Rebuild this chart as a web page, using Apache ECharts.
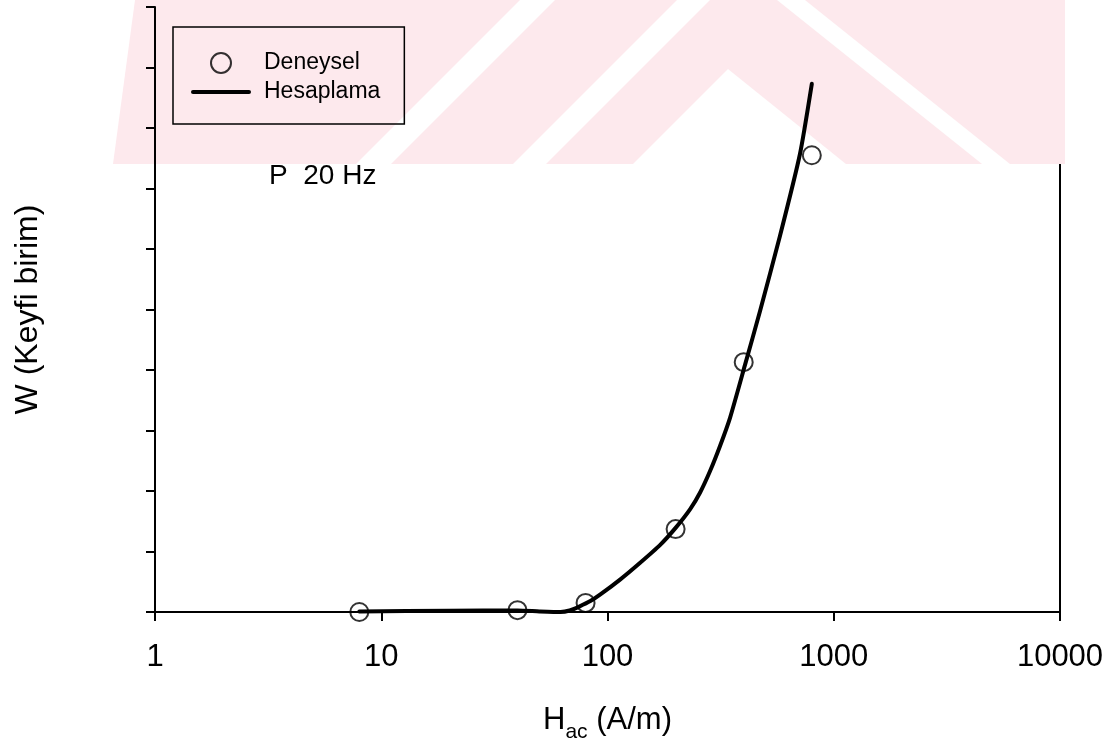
<!DOCTYPE html>
<html>
<head>
<meta charset="utf-8">
<script src="https://cdn.jsdelivr.net/npm/echarts@6/dist/echarts.min.js"></script>
<style>
  html, body { margin: 0; padding: 0; background: #ffffff; }
  #chart { width: 1113px; height: 743px; }
</style>
</head>
<body>
<div id="chart"></div>
<script>
// Measured losses (open circles)
const measuredH = [8, 40, 80, 200, 400, 800];
const measuredW = [0, 0.3, 1.5, 13.7, 41.3, 75.5];

// Calculated curve (solid line)
const calcH = [8, 20, 40, 50, 62, 68, 75, 84, 93, 114, 139, 171, 200, 232, 257, 284, 314, 348, 405, 472, 578, 709, 800];
const calcW = [0.1, 0.2, 0.25, 0.1, 0, 0.25, 0.9, 1.8, 2.9, 5.4, 8.1, 11.1, 13.9, 17.0, 19.8, 23.3, 27.4, 32.1, 40.8, 49.7, 62.1, 75.7, 87.3];

// Decade labels on the field axis
const xTickLabels = [1, 10, 100, 1000, 10000];

const FONT = "'Liberation Sans', Arial, Helvetica, sans-serif";
const PINK = '#fde9ed';

const chart = echarts.init(document.getElementById('chart'), null, { renderer: 'canvas' });

const pairs = (xs, ys) => xs.map((x, i) => [x, ys[i]]);

// faint chevron emblem printed along the top edge of the page
const emblem = {
  type: 'group', z: -10, silent: true,
  children: [
    { type: 'polygon', shape: { points: [[135, 0], [1065, 0], [1065, 164], [113, 164]] }, style: { fill: PINK } },
    { type: 'polygon', shape: { points: [[520, 0], [555, 0], [391, 164], [356, 164]] }, style: { fill: '#fff' } },
    { type: 'polygon', shape: { points: [[677, 0], [710, 0], [546, 164], [513, 164]] }, style: { fill: '#fff' } },
    { type: 'polygon', shape: { points: [[777, 0], [805, 0], [1010, 164], [982, 164]] }, style: { fill: '#fff' } },
    { type: 'polygon', shape: { points: [[728, 69], [633, 164], [846, 164]] }, style: { fill: '#fff' } }
  ]
};

chart.setOption({
  animation: false,
  backgroundColor: '#ffffff',
  textStyle: { fontFamily: FONT, color: '#000' },
  graphic: [
    emblem,
    {
      type: 'text', left: 269, top: 162, z: 10,
      style: { text: 'P  20 Hz', fontSize: 28, fontFamily: FONT, fill: '#000' }
    }
  ],
  grid: {
    left: 155, right: 53, top: 7, bottom: 131,
    outerBoundsMode: 'none',
    show: true, borderColor: '#000', borderWidth: 2, backgroundColor: 'transparent'
  },
  legend: {
    left: 173, top: 27, orient: 'vertical',
    selectedMode: false,
    borderColor: '#000', borderWidth: 1.5, borderRadius: 0,
    padding: [23, 24, 19, 18],
    itemWidth: 60, itemHeight: 20, itemGap: 3,
    textStyle: { fontSize: 23, lineHeight: 26, fontFamily: FONT, color: '#000', padding: [0, 0, 0, 8] },
    data: [
      { name: 'Deneysel' },
      { name: 'Hesaplama', icon: 'path://M2,0 L58,0 A2,2 0 0 1 58,4 L2,4 A2,2 0 0 1 2,0 Z', itemStyle: { color: '#000', borderWidth: 0 } }
    ]
  },
  xAxis: {
    type: 'log', logBase: 10, min: 1, max: 10000,
    axisLine: { show: true, lineStyle: { color: '#000', width: 2 } },
    axisTick: { show: true, inside: false, length: 9, lineStyle: { color: '#000', width: 2 } },
    minorTick: { show: false },
    splitLine: { show: false },
    axisLabel: {
      fontSize: 31, color: '#000', fontFamily: FONT, margin: 30,
      formatter: v => {
        const r = xTickLabels.find(t => Math.abs(t - v) / t < 1e-6);
        return r === undefined ? '' : String(r);
      }
    },
    name: '{h|H}{s|ac}{h| (A/m)}',
    nameLocation: 'middle', nameGap: 93,
    nameTextStyle: {
      color: '#000', fontFamily: FONT,
      rich: {
        h: { fontSize: 31, fontFamily: FONT, color: '#000', verticalAlign: 'top' },
        s: { fontSize: 21, fontFamily: FONT, color: '#000', verticalAlign: 'top', padding: [17, 0, 0, 0] }
      }
    }
  },
  yAxis: {
    type: 'value', min: 0, max: 100, interval: 10,
    axisLine: { show: true, lineStyle: { color: '#000', width: 2 } },
    axisTick: { show: true, inside: false, length: 9, lineStyle: { color: '#000', width: 2 } },
    axisLabel: { show: false },
    splitLine: { show: false },
    name: 'W (Keyfi birim)',
    nameLocation: 'middle', nameGap: 111,
    nameTextStyle: { fontSize: 32, fontFamily: FONT, color: '#000' }
  },
  series: [
    {
      name: 'Hesaplama', type: 'line',
      data: pairs(calcH, calcW),
      smooth: 0.2,
      symbol: 'none',
      lineStyle: { color: '#000', width: 4, cap: 'round', join: 'round' },
      itemStyle: { color: '#000' },
      z: 3
    },
    {
      name: 'Deneysel', type: 'scatter',
      data: pairs(measuredH, measuredW),
      symbol: 'circle', symbolSize: 18,
      itemStyle: { color: 'rgba(0,0,0,0)', borderColor: '#000', borderWidth: 2 },
      z: 4
    }
  ]
});
</script>
</body>
</html>
